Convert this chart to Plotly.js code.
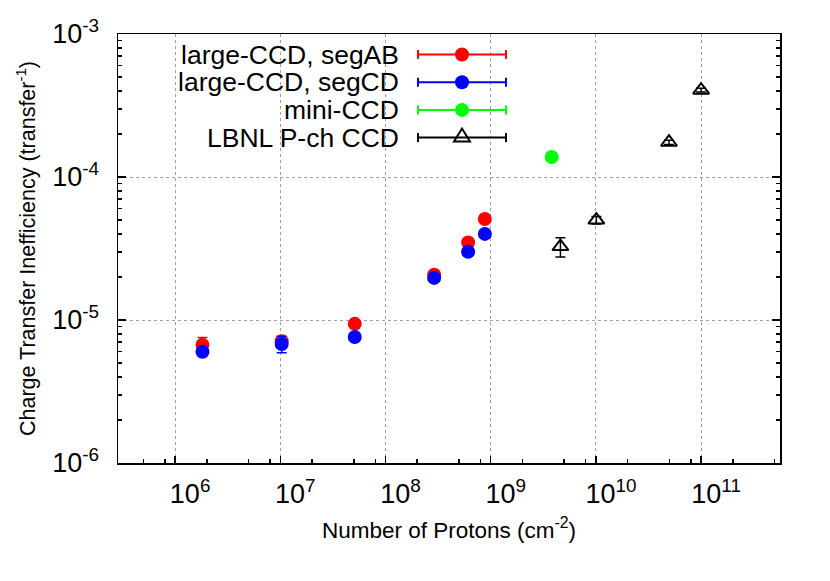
<!DOCTYPE html>
<html>
<head>
<meta charset="utf-8">
<script src="https://cdn.plot.ly/plotly-3.0.1.min.js"></script>
<style>
  html, body { margin: 0; padding: 0; background: #fff; }
  #grafica { width: 830px; height: 581px; }
</style>
</head>
<body>
<div id="grafica"></div>
<script>
// valores
const nombres = ['large-CCD, segAB', 'large-CCD, segCD', 'mini-CCD', 'LBNL P-ch CCD'];
const colores = ['#ff0000', '#0000ff', '#00ff00', '#000000'];

const protonesAB = [1.82e6, 1.03e7, 5.1e7, 2.9e8, 6.1e8, 8.8e8];
const ctiAB = [6.7e-6, 7.1e-6, 9.4e-6, 2.07e-5, 3.49e-5, 5.08e-5];
const errAB = [0.85e-6, 0.3e-6, 0.3e-6, 0.5e-6, 0.8e-6, 1.0e-6];

const protonesCD = [1.82e6, 1.03e7, 5.1e7, 2.9e8, 6.1e8, 8.8e8];
const ctiCD = [6.0e-6, 6.8e-6, 7.6e-6, 1.97e-5, 3.0e-5, 4.0e-5];
const errCD = [0.3e-6, 0.9e-6, 0.3e-6, 0.5e-6, 0.8e-6, 1.0e-6];

const protonesMini = [3.8e9];
const ctiMini = [1.38e-4];
const errMini = [2e-6];

const protonesLBNL = [4.6e9, 1.01e10, 4.95e10, 1.0e11];
const ctiLBNL = [3.26e-5, 5.0e-5, 1.75e-4, 4.05e-4];
const errLBNL = [5e-6, 3e-6, 6e-6, 1.2e-5];

const xTicks = [1e6, 1e7, 1e8, 1e9, 1e10, 1e11];
const xTickText = ['10<sup>6</sup>', '10<sup>7</sup>', '10<sup>8</sup>', '10<sup>9</sup>', '10<sup>10</sup>', '10<sup>11</sup>'];
const yTicks = [1e-6, 1e-5, 1e-4, 1e-3];
const yTickText = ['10<sup>-6</sup>', '10<sup>-5</sup>', '10<sup>-4</sup>', '10<sup>-3</sup>'];

// marcas menores: x en 2,5,8 de cada decada; y en 2..9
const xMenores = [];
for (let e = 5; e <= 11; e++) {
  [2, 5, 8].forEach(m => xMenores.push(m * 10 ** e));
}
const yMenores = [];
for (let e = -6; e <= -4; e++) {
  for (let m = 2; m <= 9; m++) yMenores.push(m * 10 ** e);
}

const ancho = 830, alto = 581;
const margen = { l: 118, r: 50, t: 34, b: 118 };
const anchoArea = ancho - margen.l - margen.r;
const altoArea = alto - margen.t - margen.b;
const px = x => (x - margen.l) / anchoArea;
const py = y => 1 - (y - margen.t) / altoArea;

function serie(x, y, err, i, simbolo) {
  return {
    x: x, y: y,
    type: 'scatter',
    mode: 'markers',
    name: nombres[i],
    showlegend: false,
    error_y: { type: 'data', array: err, visible: true, color: colores[i], thickness: 1.5, width: 5 },
    marker: simbolo === 'tri'
      ? { symbol: 'triangle-up-open', size: 14, color: colores[i], line: { width: 2, color: colores[i] } }
      : { symbol: 'circle', size: 14, color: colores[i] }
  };
}

const trazas = [
  serie(protonesAB, ctiAB, errAB, 0, 'circ'),
  serie(protonesCD, ctiCD, errCD, 1, 'circ'),
  serie(protonesMini, ctiMini, errMini, 2, 'circ'),
  serie(protonesLBNL, ctiLBNL, errLBNL, 3, 'tri')
];

// leyenda al estilo gnuplot: texto a la derecha, muestra con barras
const shapes = [{
  type: 'rect', layer: 'between', xref: 'paper', yref: 'paper',
  x0: px(119), x1: px(512), y0: py(42), y1: py(151),
  fillcolor: '#ffffff', line: { width: 0 }
}];
const annotations = [];
nombres.forEach((nombre, i) => {
  const yc = 54.5 + i * 27.7;
  annotations.push({
    xref: 'paper', yref: 'paper', x: px(401), y: py(yc),
    xanchor: 'right', yanchor: 'middle', showarrow: false,
    text: nombre, font: { size: 26.5, color: '#000' }
  });
  shapes.push({ type: 'line', xref: 'paper', yref: 'paper', x0: px(418), x1: px(506), y0: py(yc), y1: py(yc),
    line: { color: colores[i], width: 2 } });
  [418, 506].forEach(xc => shapes.push({ type: 'line', xref: 'paper', yref: 'paper',
    x0: px(xc), x1: px(xc), y0: py(yc - 4.5), y1: py(yc + 4.5), line: { color: colores[i], width: 2 } }));
  if (i < 3) {
    shapes.push({ type: 'circle', xref: 'paper', yref: 'paper', xsizemode: 'pixel', ysizemode: 'pixel',
      xanchor: px(462), yanchor: py(yc), x0: -7, x1: 7, y0: -7, y1: 7,
      fillcolor: colores[i], line: { width: 0 } });
  } else {
    shapes.push({ type: 'path', xref: 'paper', yref: 'paper', xsizemode: 'pixel', ysizemode: 'pixel',
      xanchor: px(462), yanchor: py(yc), path: 'M -8 -4 L 8 -4 L 0 9 Z',
      fillcolor: 'rgba(0,0,0,0)', line: { color: '#000', width: 2 } });
  }
});

const ejeComun = {
  type: 'log',
  showline: true,
  linecolor: '#000',
  linewidth: 1.5,
  ticks: 'inside',
  tickcolor: '#000',
  tickwidth: 1.5,
  tickmode: 'array',
  showgrid: true,
  gridcolor: '#a0a0a0',
  griddash: 'dot',
  gridwidth: 1,
  zeroline: false,
  tickfont: { size: 27, color: '#000' }
};

const layout = {
  width: ancho, height: alto,
  margin: margen,
  paper_bgcolor: '#fff',
  plot_bgcolor: '#fff',
  font: { family: '"Liberation Sans", Arial, sans-serif', color: '#000' },
  showlegend: false,
  xaxis: Object.assign({}, ejeComun, {
    range: [5.457, 11.75],
    tickvals: xTicks, ticktext: xTickText,
    ticklen: 7, mirror: true,
    ticklabelshift: 15, ticklabelstandoff: 6,
    minor: { tickmode: 'array', tickvals: xMenores, ticks: 'inside', ticklen: 4, tickcolor: '#000', tickwidth: 1.5, showgrid: false },
    title: { text: 'Number of Protons (cm<sup>-2</sup>)', font: { size: 22.5 }, standoff: 14 }
  }),
  yaxis: Object.assign({}, ejeComun, {
    range: [-6, -3],
    tickvals: yTicks, ticktext: yTickText,
    ticklen: 8, mirror: 'ticks',
    ticklabelstandoff: 12,
    minor: { tickmode: 'array', tickvals: yMenores, ticks: 'inside', ticklen: 4, tickcolor: '#000', tickwidth: 1.5, showgrid: false },
    title: { text: 'Charge Transfer Inefficiency (transfer<sup>-1</sup>)', font: { size: 21.5 }, standoff: 10 }
  }),
  shapes: shapes,
  annotations: annotations
};

Plotly.newPlot('grafica', trazas, layout, { displayModeBar: false, staticPlot: true });
</script>
</body>
</html>
